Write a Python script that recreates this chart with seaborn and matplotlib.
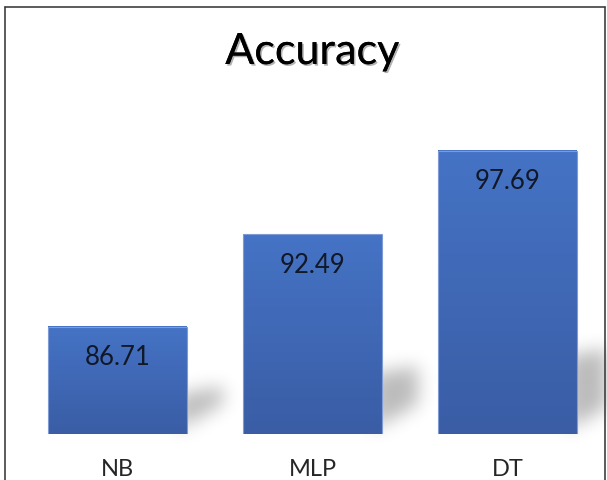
import numpy as np
import pandas as pd
import seaborn as sns
import matplotlib
matplotlib.use("Agg")
import matplotlib.pyplot as plt
from matplotlib import patheffects
from matplotlib.path import Path
from matplotlib.colors import LinearSegmentedColormap

# Data
models = ["NB", "MLP", "DT"]
accuracy = [86.71, 92.49, 97.69]
title = "Accuracy"

sns.set_theme(style="white")
plt.rcParams["font.family"] = ["Lato", "DejaVu Sans"]

W, H, DPI = 607, 481, 100
YMIN, YMAX = 80, 100
fig = plt.figure(figsize=(W / DPI, H / DPI), dpi=DPI)
fig.patch.set_facecolor("white")
ax = fig.add_axes([20 / W, (H - 435) / H, 585 / W, 320 / H])
ax.set_zorder(2)
ax.patch.set_alpha(0)

df = pd.DataFrame({"model": models, "accuracy": accuracy})
sns.barplot(data=df, x="model", y="accuracy", color="#4472C4", width=0.71,
            saturation=1, ax=ax, zorder=3)
ax.set_ylim(YMIN, YMAX)
ax.set_xlim(-0.5, len(models) - 0.5)
sns.despine(ax=ax, left=True, bottom=True)
ax.set_xlabel("")
ax.set_ylabel("")
ax.set_yticks([])
ax.tick_params(axis="x", length=0, pad=17, labelsize=17, colors="#262626")

# vertical gradient fill on each bar (from the axis floor up to the value)
grad = LinearSegmentedColormap.from_list("bar", ["#3A5DA5", "#4573C5"])
gvals = np.linspace(0, 1, 256).reshape(-1, 1)
for p in ax.patches:
    p.set_facecolor("none")
    p.set_edgecolor("#7F9BD6")
    p.set_linewidth(0.8)
    x0 = p.get_x()
    top = p.get_y() + p.get_height()
    ax.imshow(gvals, cmap=grad, aspect="auto", origin="lower",
              extent=(x0, x0 + p.get_width(), YMIN, top), zorder=2.9)
ax.set_xlim(-0.5, len(models) - 0.5)
ax.set_ylim(YMIN, YMAX)

# value labels inside the top of each bar
for p, v in zip(ax.patches, accuracy):
    ax.annotate(f"{v:.2f}", (p.get_x() + p.get_width() / 2, v),
                xytext=(0, -21.5), textcoords="offset points",
                ha="center", va="center", fontsize=18.5, color="#111827",
                zorder=5)

fig.text(312 / W, 1 - 53 / H, title, ha="center", va="center",
         fontsize=31, color="black",
         path_effects=[patheffects.withSimplePatchShadow(
             offset=(1.2, -1.2), shadow_rgbFace="#555555", alpha=0.45),
             patheffects.Normal()])

# soft perspective shadows behind the bars
fig.canvas.draw()
yy, xx = np.mgrid[0:H, 0:W]
pts = np.column_stack([xx.ravel() + 0.5, yy.ravel() + 0.5])
mask = np.zeros(H * W)
for p in ax.patches:
    x1 = p.get_x() + p.get_width()
    top = p.get_y() + p.get_height()
    xr, yb_up = ax.transData.transform((x1, YMIN))
    _, yt_up = ax.transData.transform((x1, top))
    yb = H - yb_up
    h = yt_up - yb_up
    a = 0.22 * h + 16
    poly = Path([(xr - 10, yb - 4), (xr - 10, yb - a), (xr + 36, yb - a - 8),
                 (xr + 36, yb - 30), (xr - 10, yb - 4)])
    mask = np.maximum(mask, poly.contains_points(pts).astype(float))
mask = mask.reshape(H, W)
sig = 9.0
k = np.arange(-28, 29)
kern = np.exp(-k ** 2 / (2 * sig ** 2))
kern /= kern.sum()
mask = np.apply_along_axis(lambda r: np.convolve(r, kern, mode="same"), 1, mask)
mask = np.apply_along_axis(lambda c: np.convolve(c, kern, mode="same"), 0, mask)
rgba = np.zeros((H, W, 4))
rgba[..., 3] = 0.27 * mask
fig.figimage(rgba[::-1], xo=0, yo=0, origin="lower", zorder=1)

# chart border
for xs, ys in [([5, 605], [8, 8]), ([5, 5], [8, H]), ([605, 605], [8, H])]:
    fig.add_artist(plt.Line2D(np.array(xs) / W, 1 - np.array(ys) / H,
                              color="#404040", linewidth=1.2,
                              transform=fig.transFigure))

fig.savefig("out.png", dpi=DPI)
